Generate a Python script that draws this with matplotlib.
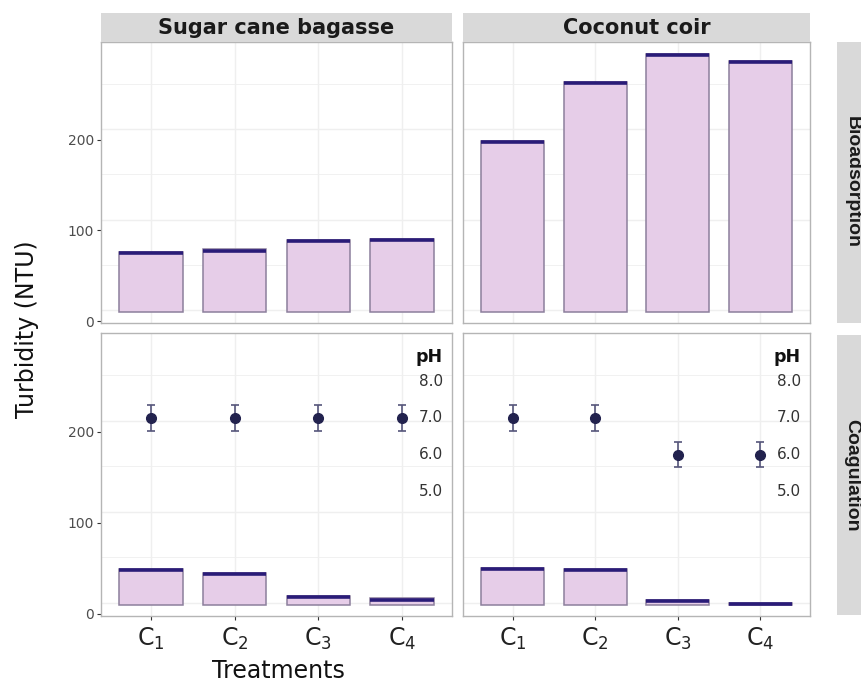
import numpy as np
import matplotlib
matplotlib.use("Agg")
import matplotlib.pyplot as plt

plt.rcParams['font.family'] = ['DejaVu Sans']
plt.rcParams['mathtext.default'] = 'regular'

# ---------------- data ----------------
categories = ['C1', 'C2', 'C3', 'C4']
tick_labels = [r'C$_1$', r'C$_2$', r'C$_3$', r'C$_4$']
materials = ['Sugar cane bagasse', 'Coconut coir']
processes = ['Bioadsorption', 'Coagulation']

sugar_bio = [76, 79, 89, 91]
coconut_bio = [199, 264, 295, 287]
sugar_coag = [49, 45, 20, 17]
coconut_coag = [50, 49, 15, 12]

sugar_ph = [7.0, 7.0, 7.0, 7.0]
coconut_ph = [7.0, 7.0, 6.0, 6.0]
sugar_ph_err = [0.35, 0.35, 0.35, 0.35]
coconut_ph_err = [0.35, 0.35, 0.35, 0.35]
ph_ticks = [5.0, 6.0, 7.0, 8.0]
y_ticks = [0, 100, 200]

# ---------------- style ----------------
BAR_BASE = 10
BAR_FILL = '#E6CDE8'
BAR_EDGE = '#8C7F9C'
TOP_LINE = '#2A1C78'
POINT = '#22224E'
ERR = '#55557A'
STRIP = '#D9D9D9'
BORDER = '#B5B5B5'
GRID = '#EFEFEF'

W, H = 862, 682
fig = plt.figure(figsize=(W / 100, H / 100), dpi=100)


def ax_at(x0, y0, x1, y1):
    return fig.add_axes([x0 / W, 1 - y1 / H, (x1 - x0) / W, (y1 - y0) / H])


def ph_to_y(ph):
    return 215 + 40.3 * (np.asarray(ph) - 7.0)


panel_x = [(101, 452), (463, 810)]
panel_y = [(42, 323), (333, 616)]
values = {(0, 0): sugar_bio, (0, 1): coconut_bio,
          (1, 0): sugar_coag, (1, 1): coconut_coag}
ph_vals = {0: (sugar_ph, sugar_ph_err), 1: (coconut_ph, coconut_ph_err)}

x = np.arange(1, len(categories) + 1)
bw = 0.76

for r in range(2):
    for c in range(2):
        ax = ax_at(panel_x[c][0], panel_y[r][0], panel_x[c][1], panel_y[r][1])
        ax.set_xlim(0.4, 4.6)
        ax.set_ylim(-2.2, 308)
        # grid
        for gy in [62, 162, 262]:
            ax.axhline(gy, color=GRID, lw=0.6, zorder=0)
        for gy in [12, 112, 212]:
            ax.axhline(gy, color=GRID, lw=1.0, zorder=0)
        for gx in x:
            ax.axvline(gx, color=GRID, lw=1.0, zorder=0)
        v = np.array(values[(r, c)], dtype=float)
        ax.bar(x, v - BAR_BASE, bottom=BAR_BASE, width=bw, color=BAR_FILL,
               edgecolor=BAR_EDGE, lw=1.1, zorder=2)
        ax.hlines(v - 1.2, x - bw / 2, x + bw / 2, color=TOP_LINE, lw=2.6, zorder=3)
        for s in ax.spines.values():
            s.set_color(BORDER)
            s.set_linewidth(1.0)
        ax.set_xticks(x)
        ax.set_yticks(y_ticks)
        ax.tick_params(axis='both', length=3, color='#333333', width=0.8)
        if r == 1:
            ax.set_xticklabels(tick_labels, fontsize=17, color='#222222')
            ax.tick_params(axis='x', pad=4)
            ph, err = ph_vals[c]
            yv = ph_to_y(ph)
            yerr = ph_to_y(np.array(ph) + np.array(err)) - yv
            ax.errorbar(x, yv, yerr=yerr, fmt='o', color=POINT, ms=7,
                        ecolor=ERR, elinewidth=1.2, capsize=3, capthick=1.2, zorder=4)
            tx = 4.49
            for p in ph_ticks:
                ax.text(tx, ph_to_y(p), f'{p:.1f}', ha='right', va='center',
                        fontsize=11, color='#333333', zorder=5)
            ax.text(tx, ph_to_y(8.65), 'pH', ha='right', va='center',
                    fontsize=12.5, fontweight='bold', color='#111111', zorder=5)
        else:
            ax.tick_params(axis='x', length=0)
            ax.set_xticklabels([])
        if c == 0:
            ax.set_yticklabels([str(t) for t in y_ticks], fontsize=10, color='#4D4D4D')
            ax.tick_params(axis='y', pad=2)
        else:
            ax.tick_params(axis='y', length=0)
            ax.set_yticklabels([])

# top strips
for c in range(2):
    sa = ax_at(panel_x[c][0], 13, panel_x[c][1], 42)
    sa.set_facecolor(STRIP)
    sa.set_xticks([]); sa.set_yticks([])
    for s in sa.spines.values():
        s.set_visible(False)
    sa.text(0.5, 0.5, materials[c], ha='center', va='center', fontsize=15,
            fontweight='bold', color='#1A1A1A', transform=sa.transAxes)

# right strips
right_strip_y = [(42, 323), (335, 615)]
for r in range(2):
    sa = ax_at(837, right_strip_y[r][0], 875, right_strip_y[r][1])
    sa.set_facecolor(STRIP)
    sa.set_xticks([]); sa.set_yticks([])
    for s in sa.spines.values():
        s.set_visible(False)
    fig.text(852 / W, 1 - (sum(right_strip_y[r]) / 2) / H, processes[r],
             rotation=-90, ha='center', va='center', fontsize=14,
             fontweight='bold', color='#1A1A1A',
             family=['Liberation Sans', 'DejaVu Sans'])

# axis titles
fig.text(27 / W, 1 - 329 / H, 'Turbidity (NTU)', rotation=90, ha='center',
         va='center', fontsize=17, color='#111111')
fig.text(278 / W, 4 / H, 'Treatments', ha='center', va='baseline',
         fontsize=17, color='#111111')

fig.savefig('out.png', dpi=100)
